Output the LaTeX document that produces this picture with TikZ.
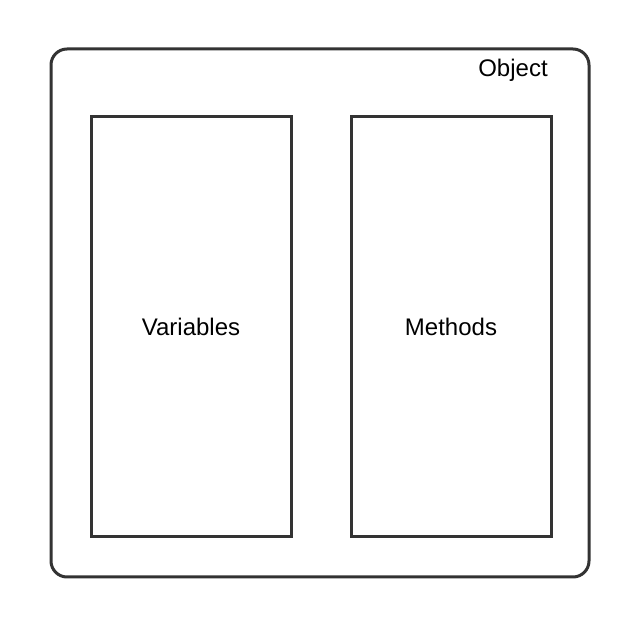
\documentclass[tikz,border=0pt]{standalone}
\usepackage{fontspec}
\setmainfont{Liberation Sans}
\usepackage{tikz}

\begin{document}
\begin{tikzpicture}[x=1pt,y=-1pt, line width=3pt,
    obox/.style={draw=black!80, rounded corners=16pt, minimum width=538pt, minimum height=528pt},
    pbox/.style={draw=black!80, minimum width=200pt, minimum height=420pt, font=\fontsize{24}{28}\selectfont}]
    \useasboundingbox (0,0) rectangle (638,617);
    \node[obox] (obj) at (320,313) {};
    \node (objl) at (513,70) {\fontsize{24}{28}\selectfont Object};
    \node[pbox] (var) at (191,327) {Variables};
    \node[pbox] (met) at (451,327) {Methods};
\end{tikzpicture}
\end{document}
